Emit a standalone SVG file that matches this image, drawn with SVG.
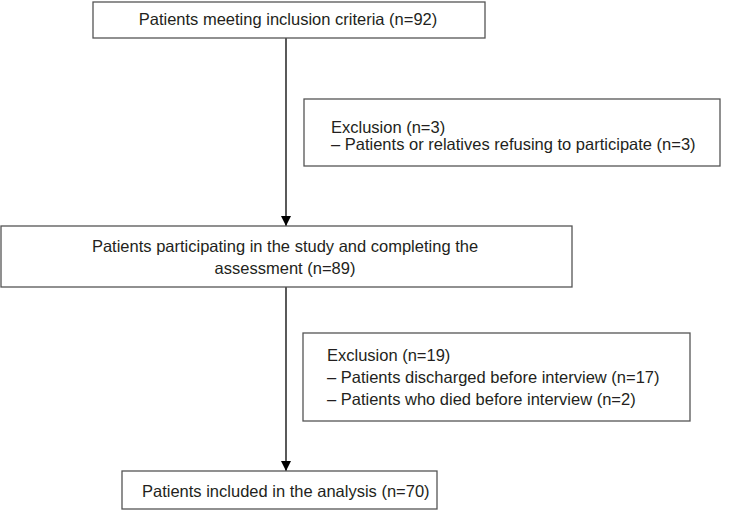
<svg xmlns="http://www.w3.org/2000/svg" width="729" height="510" viewBox="0 0 729 510">
<style>
.box{fill:#fff;stroke:#555;stroke-width:1.3}
.t{font-family:"Liberation Sans",Arial,sans-serif;font-size:16.5px;fill:#231f20}
.c{text-anchor:middle}
.ln{stroke:#000;stroke-width:1.3;fill:none}
</style>
<defs>
<marker id="ah" viewBox="0 0 10 10" refX="10" refY="5" markerWidth="10" markerHeight="10" markerUnits="userSpaceOnUse" orient="auto">
<path d="M0,0 L10,5 L0,10 z" fill="#000"/>
</marker>
</defs>
<rect width="729" height="510" fill="#fff"/>
<g id="connectors">
<line class="ln" x1="286" y1="38" x2="286" y2="226" marker-end="url(#ah)"/>
<line class="ln" x1="286" y1="287" x2="286" y2="471" marker-end="url(#ah)"/>
</g>
<g id="n1">
<rect class="box" x="93" y="2" width="392" height="36"/>
<text class="t c" x="288" y="25">Patients meeting inclusion criteria (n=92)</text>
</g>
<g id="n2">
<rect class="box" x="304" y="99" width="416" height="67"/>
<text class="t" x="331" y="133">Exclusion (n=3)</text>
<text class="t" x="331" y="150">– Patients or relatives refusing to participate (n=3)</text>
</g>
<g id="n3">
<rect class="box" x="1" y="226" width="571" height="61"/>
<text class="t c" x="285" y="252">Patients participating in the study and completing the</text>
<text class="t c" x="285" y="274">assessment (n=89)</text>
</g>
<g id="n4">
<rect class="box" x="303" y="333" width="387" height="88"/>
<text class="t" x="327" y="361">Exclusion (n=19)</text>
<text class="t" x="327" y="383">– Patients discharged before interview (n=17)</text>
<text class="t" x="327" y="405">– Patients who died before interview (n=2)</text>
</g>
<g id="n5">
<rect class="box" x="122" y="471" width="315" height="38"/>
<text class="t" x="142" y="497">Patients included in the analysis (n=70)</text>
</g>
</svg>
